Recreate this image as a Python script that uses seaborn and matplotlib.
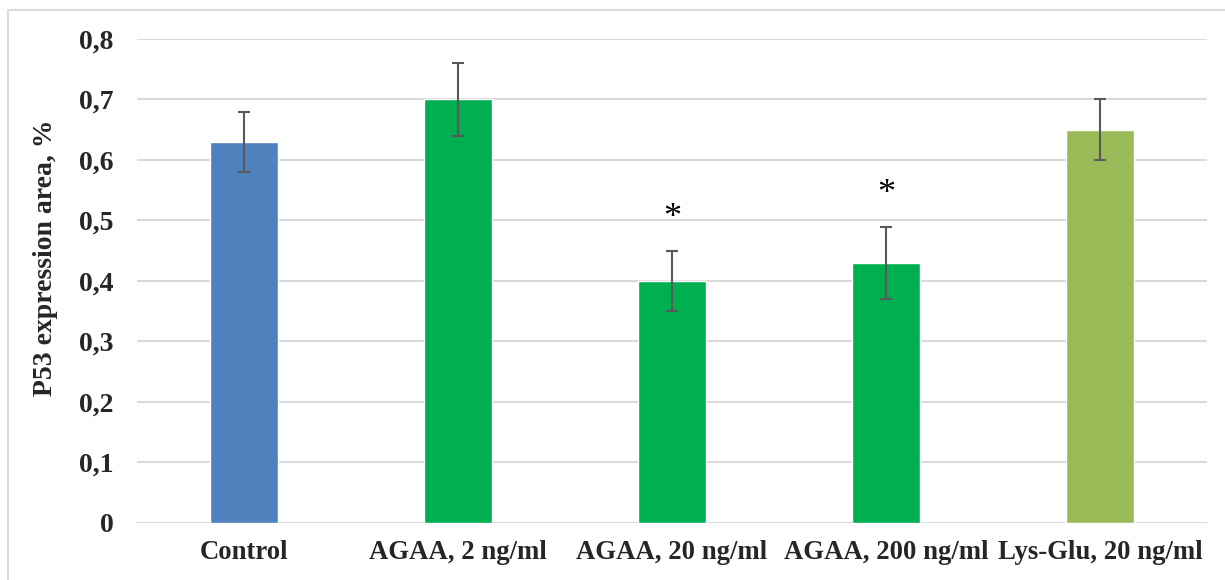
import matplotlib
matplotlib.use("Agg")
import matplotlib.pyplot as plt
from matplotlib.lines import Line2D
import pandas as pd
import seaborn as sns

groups = ["Control", "AGAA, 2 ng/ml", "AGAA, 20 ng/ml", "AGAA, 200 ng/ml", "Lys-Glu, 20 ng/ml"]
means = [0.63, 0.70, 0.40, 0.43, 0.65]
errors = [0.05, 0.06, 0.05, 0.06, 0.05]
bar_colors = ["#4F81BD", "#00B050", "#00B050", "#00B050", "#9BBB59"]
star_heights = [None, None, 0.503, 0.543, None]
y_ticks = [0, 0.1, 0.2, 0.3, 0.4, 0.5, 0.6, 0.7, 0.8]

df = pd.DataFrame({"group": groups, "mean": means, "err": errors})

sns.set_theme(style="white")
plt.rcParams["font.family"] = ["Liberation Serif", "DejaVu Serif"]

fig = plt.figure(figsize=(12.25, 5.8), dpi=100)
ax = fig.add_axes([0.1118, 0.0983, 0.8735, 0.8345])

sns.barplot(data=df, x="group", y="mean", hue="group", palette=bar_colors,
            width=0.32, legend=False, ax=ax, errorbar=None, saturation=1)
ax.errorbar(range(len(groups)), df["mean"], yerr=df["err"], fmt="none",
            ecolor="#595959", elinewidth=1.5, capsize=4.5, capthick=1.5, zorder=5)

for i, h in enumerate(star_heights):
    if h is not None:
        ax.text(i, h, "*", ha="center", va="center", fontsize=26, color="black")

ax.set_ylim(0, 0.8)
ax.set_xlim(-0.5, len(groups) - 0.5)
ax.set_yticks(y_ticks)
ax.set_yticklabels([f"{t:g}".replace(".", ",") for t in y_ticks], fontsize=20, fontweight="bold")
ax.set_xticks(range(len(groups)))
ax.set_xticklabels(groups, fontsize=19.3, fontweight="bold")
ax.tick_params(axis="x", pad=12, length=0)
ax.tick_params(axis="y", pad=17, length=0)
ax.set_xlabel("")
ax.set_ylabel("P53 expression area, %", fontsize=20, fontweight="bold", labelpad=15)
ax.yaxis.label.set_y(0.548)
ax.yaxis.grid(True, color="#D9D9D9", linewidth=1.5)
ax.set_axisbelow(True)
for s in ax.spines.values():
    s.set_visible(False)

# light chart frame
fig.add_artist(Line2D([8 / 1225, 1], [1 - 10 / 580, 1 - 10 / 580], color="#D9D9D9", lw=1.5, transform=fig.transFigure))
fig.add_artist(Line2D([8 / 1225, 8 / 1225], [0, 1 - 10 / 580], color="#D9D9D9", lw=1.5, transform=fig.transFigure))

fig.savefig("out.png", dpi=100)
